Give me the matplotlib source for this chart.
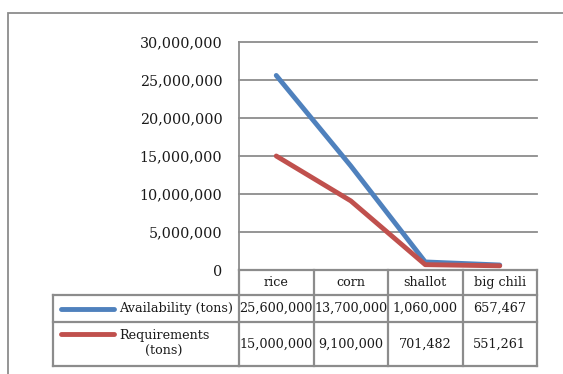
import matplotlib.pyplot as plt
from matplotlib.lines import Line2D
from matplotlib.patches import Rectangle
from matplotlib.transforms import blended_transform_factory
from matplotlib.ticker import FuncFormatter

crops = ["rice", "corn", "shallot", "big chili"]
availability = [25600000, 13700000, 1060000, 657467]
requirements = [15000000, 9100000, 701482, 551261]
series_names = ["Availability (tons)", "Requirements\n(tons)"]
series_colors = ["#4F81BD", "#C0504D"]

W, H = 563, 374
plt.rcParams['font.family'] = ['DejaVu Serif']
fig = plt.figure(figsize=(W / 100, H / 100), dpi=100)

def fx(x):
    return x / W

def fy(y):
    return 1 - y / H

# outer chart frame (runs off the right and bottom edges)
fig.add_artist(Rectangle((fx(8), fy(380)), fx(600) - fx(8), fy(13) - fy(380),
                         transform=fig.transFigure, fill=False,
                         edgecolor="#8c8c8c", lw=1.3))

ax = fig.add_axes([fx(239), fy(270), fx(537) - fx(239), fy(42) - fy(270)])
x = list(range(len(crops)))
for vals, col in zip([availability, requirements], series_colors):
    ax.plot(x, vals, color=col, lw=3.5, solid_capstyle="round", zorder=3)

ax.set_xlim(-0.5, len(crops) - 0.5)
ax.set_ylim(0, 30000000)
ax.set_yticks(range(0, 30000001, 5000000))
ax.yaxis.set_major_formatter(FuncFormatter(lambda v, p: f"{int(v):,}"))
ax.tick_params(axis="y", length=0, pad=12, labelsize=10.3, labelcolor="#1a1a1a")
ax.set_xticks([])
ax.grid(axis="y", color="#8c8c8c", lw=1.3)
for gl in ax.get_ygridlines():
    gl.set_clip_on(False)
ax.set_axisbelow(True)
for s in ["top", "right", "bottom"]:
    ax.spines[s].set_visible(False)
ax.spines["left"].set_color("#8c8c8c")
ax.spines["left"].set_linewidth(1.3)

# data table under the plot: x in data units, y in figure units
tr = blended_transform_factory(ax.transData, fig.transFigure)
trf = fig.transFigure
bc = "#8c8c8c"
blw = 1.6
row_y = [270, 295, 322, 366]
xl, xr = -0.5, len(crops) - 0.5
left_px = 53

def hline(y, x0, x1, transform):
    fig.add_artist(Line2D([x0, x1], [fy(y), fy(y)], transform=transform,
                          color=bc, lw=blw))

# category row
hline(270, xl, xr, tr)
for i in range(len(crops) + 1):
    fig.add_artist(Line2D([i - 0.5, i - 0.5], [fy(270), fy(366)], transform=tr,
                          color=bc, lw=blw))
for i, c in enumerate(crops):
    fig.text(i, fy(282.5), c, transform=tr, ha="center", va="center",
             fontsize=9.2, color="#1a1a1a")

# series rows
for y in row_y[1:]:
    fig.add_artist(Line2D([fx(left_px), fx(239)], [fy(y), fy(y)], transform=trf,
                          color=bc, lw=blw))
    hline(y, xl, xr, tr)
fig.add_artist(Line2D([fx(left_px), fx(left_px)], [fy(295), fy(366)], transform=trf,
                      color=bc, lw=blw))

rows = [(availability, 308.5, 308.5, 308.5),
        (requirements, 344, 334, 343.7)]
for (vals, yv, yline, ytext), name, col in zip(rows, series_names, series_colors):
    fig.add_artist(Line2D([fx(61), fx(114)], [fy(yline), fy(yline)], transform=trf,
                          color=col, lw=3.5, solid_capstyle="round"))
    fig.text(fx(119), fy(ytext), name, transform=trf, ha="left", va="center",
             multialignment="center", fontsize=9.2, color="#1a1a1a", linespacing=1.3)
    for i, v in enumerate(vals):
        fig.text(i, fy(yv), f"{v:,}", transform=tr, ha="center", va="center",
                 fontsize=9.2, color="#1a1a1a")

fig.savefig("out.png", dpi=100)
